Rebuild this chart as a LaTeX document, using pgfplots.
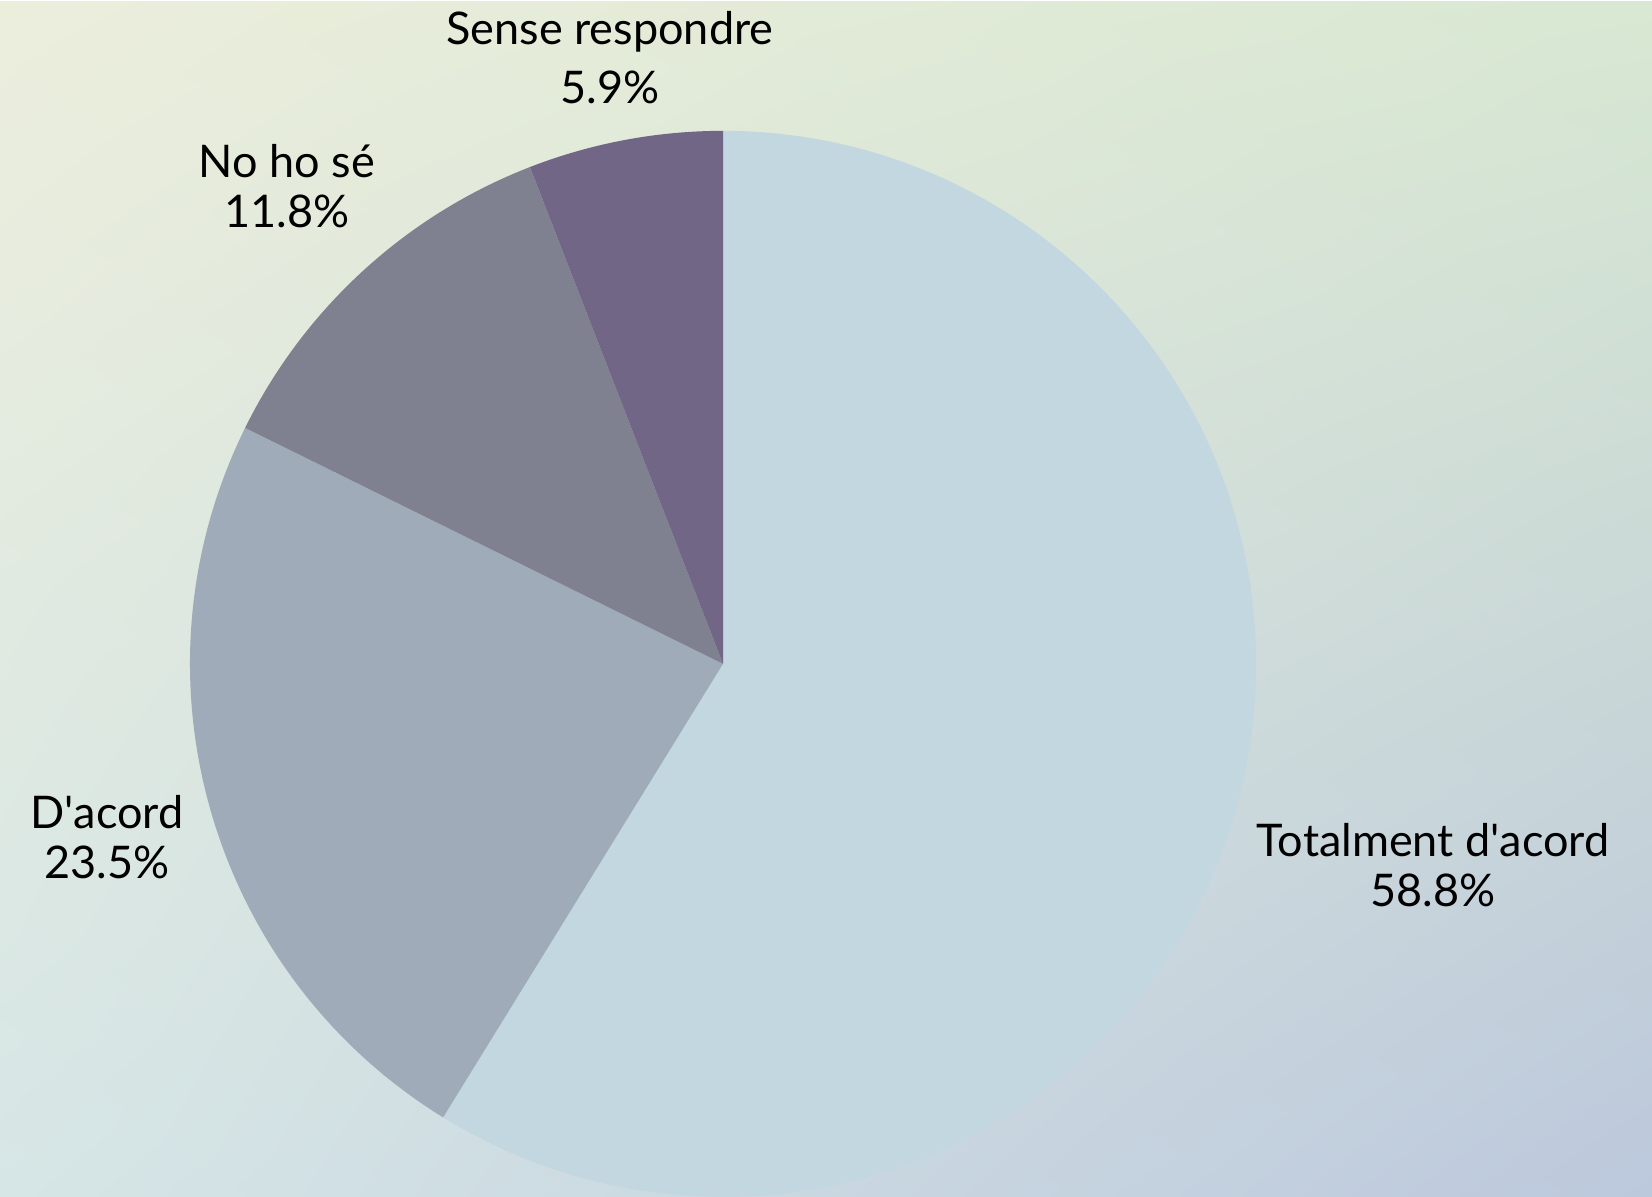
\documentclass[border=0pt]{standalone}
\usepackage{pgfplots}
\usepackage{pgfplotstable}
\usepackage{fontspec}
\setmainfont{Lato}
\usetikzlibrary{shadings}
\pgfplotsset{compat=1.18}

% background
\definecolor{bgTL}{HTML}{ECEEDC}
\definecolor{bgTR}{HTML}{D8E8D2}
\definecolor{bgBL}{HTML}{D6E6E6}
\definecolor{bgBR}{HTML}{BCC8DC}
% slices
\definecolor{sliceA}{HTML}{C2D7E0}
\definecolor{sliceB}{HTML}{9FABB8}
\definecolor{sliceC}{HTML}{7F8190}
\definecolor{sliceD}{HTML}{716685}

% value (%), colour, label x, baselines of the two label lines, name
\pgfplotstableread{
value color lx ly1 ly2 label
58.8 sliceA 7.10 -1.93 -2.43 {Totalment d\textquotesingle acord}
23.5 sliceB -6.16 -1.65 -2.15 {D\textquotesingle acord}
11.8 sliceC -4.36 4.86 4.36 {No ho sé}
5.9 sliceD -1.13 6.19 5.60 {Sense respondre}
}\piedata

\begin{document}
\begin{tikzpicture}
\begin{axis}[
    x={(1cm,0)}, y={(0,1cm)},
    xmin=-7.23, xmax=9.29,
    ymin=-5.33, ymax=6.62,
    hide axis,
    scale only axis,
    clip=false,
]
\pgfplotsextra{
    \shade[upper left=bgTL, upper right=bgTR, lower left=bgBL, lower right=bgBR]
        (axis cs:-7.23,-5.33) rectangle (axis cs:9.29,6.62);
    \xdef\startangle{90}
    \foreach \i in {0,...,3}{
        \pgfplotstablegetelem{\i}{value}\of\piedata \let\val\pgfplotsretval
        \pgfplotstablegetelem{\i}{color}\of\piedata \let\col\pgfplotsretval
        \pgfplotstablegetelem{\i}{lx}\of\piedata \let\lx\pgfplotsretval
        \pgfplotstablegetelem{\i}{ly1}\of\piedata \let\lya\pgfplotsretval
        \pgfplotstablegetelem{\i}{ly2}\of\piedata \let\lyb\pgfplotsretval
        \pgfplotstablegetelem{\i}{label}\of\piedata \let\lab\pgfplotsretval
        \pgfmathsetmacro\endangle{\startangle-3.6*\val}
        \fill[\col] (axis cs:0,0) -- (axis cs:{5.33*cos(\startangle)},{5.33*sin(\startangle)})
            arc[start angle=\startangle, end angle=\endangle, radius=5.33cm] -- cycle;
        \node[anchor=base, font=\fontsize{12.8}{15}\selectfont] at (axis cs:\lx,\lya) {\lab};
        \node[anchor=base, font=\fontsize{12.8}{15}\selectfont] at (axis cs:\lx,\lyb)
            {\pgfmathprintnumber[fixed, fixed zerofill, precision=1, assume math mode=true]{\val}\%};
        \xdef\startangle{\endangle}
    }
}
\end{axis}
\end{tikzpicture}
\end{document}
